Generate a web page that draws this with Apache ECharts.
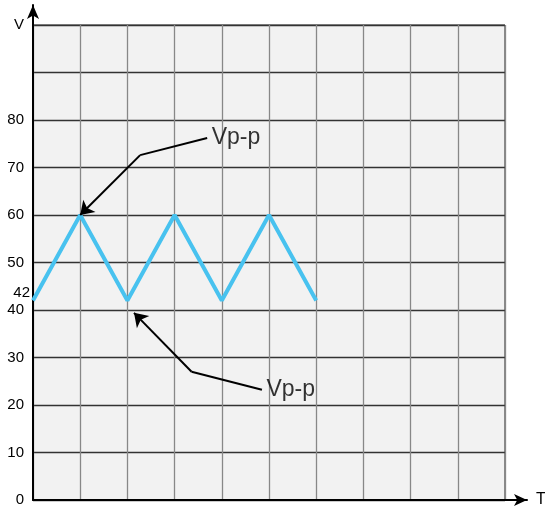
<!DOCTYPE html>
<html><head><meta charset="utf-8">
<script src="https://cdn.jsdelivr.net/npm/echarts@6/dist/echarts.min.js"></script>
<style>html,body{margin:0;padding:0;background:#fff}#c{width:545px;height:508px}</style>
</head><body><div id="c"></div>
<script>
// Data
const waveT = [0, 1, 2, 3, 4, 5, 6];
const waveV = [42, 60, 42, 60, 42, 60, 42];
const yTickValues = [0, 10, 20, 30, 40, 50, 60, 70, 80];
const yMarkValue = 42;
const annoLabel = 'Vp-p';
const anno1 = [[3.69, 76.2], [2.27, 72.6], [1.0, 60.0]];
const anno2 = [[4.85, 23.2], [3.36, 27.0], [2.14, 39.4]];

const font = '"Liberation Sans", Arial, sans-serif';
const chart = echarts.init(document.getElementById('c'), null, {renderer: 'canvas'});
chart.setOption({
  animation: false,
  backgroundColor: '#fff',
  textStyle: {color: '#000', fontFamily: font},
  grid: [
    {left: 33, right: 40, top: 25, bottom: 8, show: true, backgroundColor: '#f2f2f2', borderColor: '#222', borderWidth: 1, outerBoundsMode: 'none'},
    {left: 33, right: 18, top: 5, bottom: 8, outerBoundsMode: 'none'}
  ],
  xAxis: [
    {type: 'value', gridIndex: 0, min: 0, max: 10, interval: 1,
     axisLine: {show: false}, axisTick: {show: false}, axisLabel: {show: false},
     splitLine: {show: true, lineStyle: {color: '#888', width: 1.3}}},
    {type: 'value', gridIndex: 1, min: 0, max: 1,
     axisLine: {show: true, onZero: false, symbol: ['none', 'arrow'], symbolSize: [9, 13], lineStyle: {color: '#000', width: 2}},
     axisTick: {show: false}, axisLabel: {show: false}, splitLine: {show: false},
     name: 'T', nameLocation: 'end', nameGap: 9,
     nameTextStyle: {color: '#000', fontSize: 16, fontFamily: font, verticalAlign: 'middle'}}
  ],
  yAxis: [
    {type: 'value', gridIndex: 0, position: 'left', min: 0, max: 100, interval: 10,
     axisLine: {show: false}, axisTick: {show: false},
     axisLabel: {show: true, customValues: yTickValues.concat([100]), margin: 9, color: '#000', fontSize: 15, fontFamily: font,
       formatter: v => v === 100 ? 'V' : String(v)},
     splitLine: {show: true, lineStyle: {color: '#333', width: 1.3}}},
    {type: 'value', gridIndex: 1, position: 'left', min: 0, max: 1,
     axisLine: {show: true, onZero: false, symbol: ['none', 'arrow'], symbolSize: [9, 14], lineStyle: {color: '#000', width: 2}},
     axisTick: {show: false}, axisLabel: {show: false}, splitLine: {show: false}},
    {type: 'value', gridIndex: 0, position: 'left', offset: 0, min: 0, max: 100, interval: 10,
     axisLine: {show: false}, axisTick: {show: false}, splitLine: {show: false},
     axisLabel: {show: true, customValues: [yMarkValue], margin: 3, color: '#000', fontSize: 15, fontFamily: font,
       verticalAlign: 'bottom'}}
  ],
  series: [
    {type: 'line', xAxisIndex: 0, yAxisIndex: 0, data: waveT.map((t, i) => [t, waveV[i]]),
     showSymbol: false, lineStyle: {color: '#48c2ef', width: 4}, z: 3},
    {type: 'lines', coordinateSystem: 'cartesian2d', xAxisIndex: 0, yAxisIndex: 0, polyline: false,
     symbol: ['none', 'none'],
     lineStyle: {color: '#000', width: 2, opacity: 1},
     data: [{coords: [anno1[0], anno1[1]]}, {coords: [anno2[0], anno2[1]]}], z: 5},
    {type: 'lines', coordinateSystem: 'cartesian2d', xAxisIndex: 0, yAxisIndex: 0, polyline: false,
     symbol: ['none', 'arrow'], symbolSize: [9, 13],
     lineStyle: {color: '#000', width: 2, opacity: 1},
     data: [{coords: [anno1[1], anno1[2]]}, {coords: [anno2[1], anno2[2]]}], z: 5},
    {type: 'scatter', xAxisIndex: 0, yAxisIndex: 0, data: [anno1[0], anno2[0]], symbolSize: 1, itemStyle: {color: 'rgba(0,0,0,0)'},
     label: {show: true, position: 'right', distance: 4, formatter: annoLabel, color: '#000', fontSize: 23, fontFamily: font}, z: 6}
  ]
});
</script></body></html>
